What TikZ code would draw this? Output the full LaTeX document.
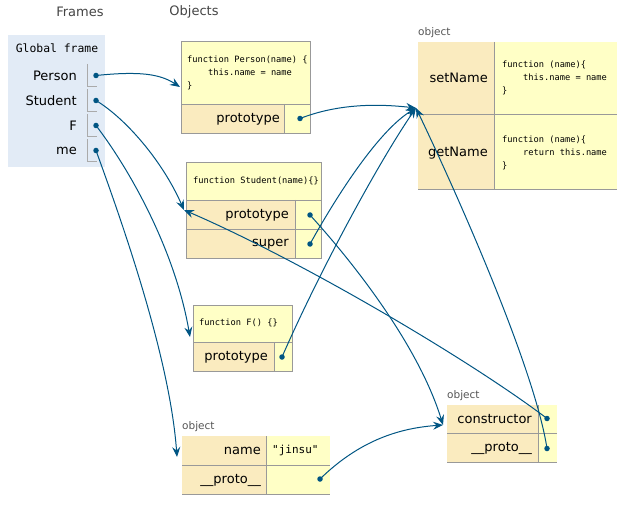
\documentclass[tikz,border=0pt]{standalone}
\usepackage{fontspec}
\setmainfont{DejaVu Sans}
\setmonofont{DejaVu Sans Mono}
\usetikzlibrary{arrows.meta}
\definecolor{framebg}{HTML}{E2EBF6}
\definecolor{keybg}{HTML}{FAEBBF}
\definecolor{valbg}{HTML}{FFFFC6}
\definecolor{bord}{HTML}{999999}
\definecolor{ptrline}{HTML}{AAAAAA}
\definecolor{arr}{HTML}{005583}
\definecolor{lbl}{HTML}{555555}
\definecolor{hdrc}{HTML}{444444}
\begin{document}
\begin{tikzpicture}[x=1pt,y=-1pt,
  lab/.style={font=\fontsize{13}{15}\selectfont, text=black, inner sep=0, anchor=east},
  code/.style={font=\ttfamily\fontsize{8.7}{13}\selectfont, align=left, anchor=west, inner sep=0},
  hdr/.style={font=\fontsize{13}{15}\selectfont, text=hdrc, inner sep=0},
  objlbl/.style={font=\fontsize{10.5}{12}\selectfont, text=lbl, anchor=west, inner sep=0},
  dot/.style={circle, fill=arr, inner sep=0, minimum size=5.5pt},
  ptr/.style={draw=arr, line width=1pt, -{Stealth[length=10pt,width=8pt,inset=3.5pt]}},
  cell/.style={draw=bord, line width=0.9pt},
  pbox/.style={draw=ptrline, line width=0.9pt}
]
\useasboundingbox (0,0) rectangle (635,516);

% headers
\node[hdr] (hFrames) at (80,12) {Frames};
\node[hdr] (hObjects) at (194,12) {Objects};

% global frame
\fill[framebg] (8,35) rectangle (105,167);
\node[font=\ttfamily\fontsize{11.4}{13}\selectfont, inner sep=0] (gf) at (57,48) {Global frame};
\node[lab] (nPerson) at (77,76) {Person};
\node[lab] (nStudent) at (77,101) {Student};
\node[lab] (nF) at (77,126) {F};
\node[lab] (nMe) at (77,151) {me};
\foreach \y in {64,89,114,139} {
  \draw[pbox] (87,\y) -- (87,\y+22) -- (97,\y+22);
}

% Person function
\fill[valbg] (181,41) rectangle (310,104);
\fill[keybg] (181,104) rectangle (284,133);
\fill[valbg] (284,104) rectangle (310,133);
\draw[cell] (181,41) rectangle (310,133);
\draw[cell] (181,104) -- (310,104);
\draw[cell] (284,104) -- (284,133);
\node[code] (cPerson) at (187,73) {function Person(name) \{\\\phantom{0000}this.name = name\\\}};
\node[lab] (kPersonProto) at (280,119) {prototype};

% Student function
\fill[valbg] (186,162) rectangle (321,200);
\fill[keybg] (186,200) rectangle (295,258);
\fill[valbg] (295,200) rectangle (321,258);
\draw[cell] (186,162) rectangle (321,258);
\draw[cell] (186,200) -- (321,200);
\draw[cell] (186,229) -- (321,229);
\draw[cell] (295,200) -- (295,258);
\node[code] (cStudent) at (193,181) {function Student(name)\{\}};
\node[lab] (kStudentProto) at (289,215) {prototype};
\node[lab] (kStudentSuper) at (289,244) {super};

% F function
\fill[valbg] (193,305) rectangle (292,342);
\fill[keybg] (193,342) rectangle (274,371);
\fill[valbg] (274,342) rectangle (292,371);
\draw[cell] (193,305) rectangle (292,371);
\draw[cell] (193,342) -- (292,342);
\draw[cell] (274,342) -- (274,371);
\node[code] (cF) at (199,323) {function F() \{\}};
\node[lab] (kFProto) at (268,357) {prototype};

% top-right object
\node[objlbl] (oTop) at (418,33) {object};
\fill[keybg] (418,42) rectangle (494,189);
\fill[valbg] (494,42) rectangle (617,189);
\draw[cell] (494,42) -- (494,189);
\draw[cell] (418,114.5) -- (617,114.5);
\draw[cell] (418,189) -- (617,189);
\node[lab] (kSet) at (488,78) {setName};
\node[lab] (kGet) at (488,153) {getName};
\node[code] (cSet) at (502,78) {function (name)\{\\\phantom{0000}this.name = name\\\}};
\node[code] (cGet) at (502,153) {function (name)\{\\\phantom{0000}return this.name\\\}};

% bottom-left object (me)
\node[objlbl] (oMe) at (182,427) {object};
\fill[keybg] (182,436) rectangle (266.5,494);
\fill[valbg] (266.5,436) rectangle (330,494);
\draw[cell] (266.5,436) -- (266.5,494);
\draw[cell] (182,465) -- (330,465);
\draw[cell] (182,494) -- (330,494);
\node[lab] (kName) at (261,451) {name};
\node[font=\ttfamily\fontsize{11}{13}\selectfont, inner sep=0, anchor=west] (vName) at (272,450) {"jinsu"};
\node[lab] (kMeProto) at (261,480) {\_\_proto\_\_};

% bottom-right object (prototype of Student)
\node[objlbl] (oSP) at (447,396) {object};
\fill[keybg] (447,405) rectangle (538.5,462.5);
\fill[valbg] (538.5,405) rectangle (557,462.5);
\draw[cell] (538.5,405) -- (538.5,462.5);
\draw[cell] (447,433.5) -- (557,433.5);
\draw[cell] (447,462.5) -- (557,462.5);
\node[lab] (kCons) at (532,419) {constructor};
\node[lab] (kSPProto) at (532,448) {\_\_proto\_\_};

% dots
\node[dot] (pPerson) at (96,75.5) {};
\node[dot] (pStudent) at (96,100.5) {};
\node[dot] (pF) at (96,125.5) {};
\node[dot] (pMe) at (96,150.5) {};
\node[dot] (pPersonProto) at (300,118.5) {};
\node[dot] (pStudentProto) at (310,215) {};
\node[dot] (pStudentSuper) at (310,244) {};
\node[dot] (pFProto) at (282,357) {};
\node[dot] (pMeProto) at (320,479) {};
\node[dot] (pCons) at (547,418.5) {};
\node[dot] (pSPProto) at (547,448.5) {};

% targets
\coordinate (tPerson) at (180,87);
\coordinate (tStudent) at (184,210);
\coordinate (tF) at (190,337);
\coordinate (tMe) at (177,457);
\coordinate (tObj) at (416,108);
\coordinate (tSP) at (443,425);

% pointers
\draw[ptr] (pPerson.center) .. controls (140,71) and (160,74) .. (tPerson);
\draw[ptr] (pStudent.center) .. controls (125,118) and (162,160) .. (tStudent);
\draw[ptr] (pF.center) .. controls (130,170) and (175,250) .. (tF);
\draw[ptr] (pMe.center) .. controls (125,230) and (170,360) .. (tMe);
\draw[ptr] (pPersonProto.center) .. controls (340,103) and (380,104) .. (tObj);
\draw[ptr] (pStudentSuper.center) .. controls (340,190) and (380,130) .. (tObj);
\draw[ptr] (pFProto.center) .. controls (320,270) and (380,160) .. (tObj);
\draw[ptr] (pSPProto.center) .. controls (535,370) and (460,200) .. (tObj);
\draw[ptr] (pStudentProto.center) .. controls (360,270) and (420,350) .. (tSP);
\draw[ptr] (pCons.center) .. controls (470,360) and (300,260) .. (tStudent);
\draw[ptr] (pMeProto.center) .. controls (360,440) and (400,428) .. (tSP);
\end{tikzpicture}
\end{document}
